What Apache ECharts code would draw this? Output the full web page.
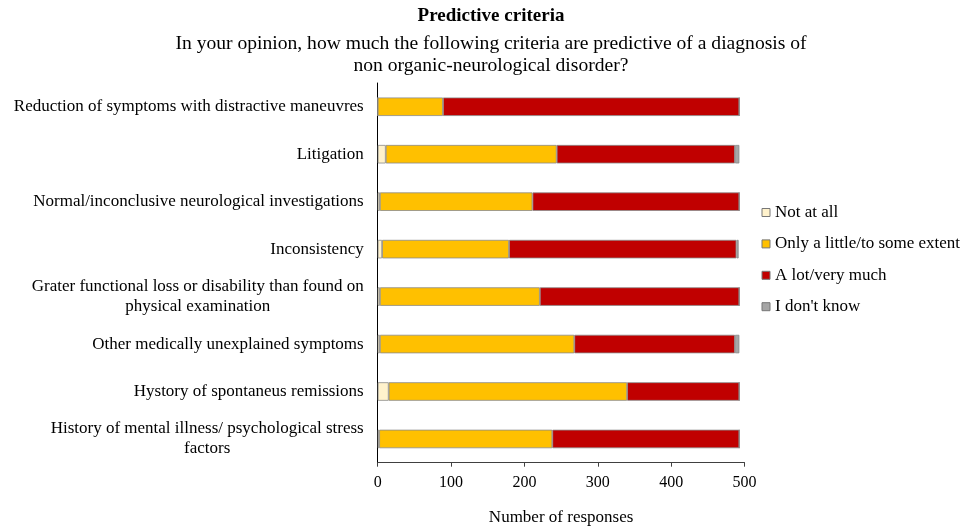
<!DOCTYPE html>
<html>
<head>
<meta charset="utf-8">
<script src="https://cdn.jsdelivr.net/npm/echarts@6/dist/echarts.min.js"></script>
<style>html,body{margin:0;padding:0;background:#fff}#c{width:971px;height:527px}</style>
</head>
<body>
<div id="c"></div>
<script>
var categories = [
  "Reduction of symptoms with distractive maneuvres",
  "Litigation",
  "Normal/inconclusive neurological investigations",
  "Inconsistency",
  "Grater functional loss or disability than found on\nphysical examination",
  "Other medically unexplained symptoms",
  "Hystory of spontaneus remissions",
  "History of mental illness/ psychological stress\nfactors"
];
var seriesNames = ["Not at all", "Only a little/to some extent", "A lot/very much", "I don't know"];
var notAtAll   = [0, 11, 3, 6, 3, 3, 15, 2];
var aLittle    = [89, 233, 208, 173, 218, 265, 325, 236];
var aLot       = [404, 243, 282, 310, 272, 219, 153, 255];
var dontKnow   = [0, 6, 0, 3, 0, 6, 0, 0];
var xTicks = [0, 100, 200, 300, 400, 500];

var colors = ['#FFF2CC', '#FFC000', '#C00000', '#A6A6A6'];
var FONT = '"Liberation Serif", "Times New Roman", serif';
var dataSets = [notAtAll, aLittle, aLot, dontKnow];

var chart = echarts.init(document.getElementById('c'));
chart.setOption({
  animation: false,
  backgroundColor: '#fff',
  textStyle: { fontFamily: FONT },
  title: {
    text: 'Predictive criteria',
    subtext: 'In your opinion, how much the following criteria are predictive of a diagnosis of\nnon organic-neurological disorder?',
    left: 486, top: 1, textAlign: 'center',
    itemGap: 7,
    textStyle: { fontFamily: FONT, fontSize: 19, fontWeight: 'bold', color: '#000', lineHeight: 20 },
    subtextStyle: { fontFamily: FONT, fontSize: 19.6, color: '#000', lineHeight: 22 }
  },
  legend: {
    orient: 'vertical', left: 756.5, top: 199,
    itemWidth: 8, itemHeight: 8, itemGap: 14.4,
    icon: 'rect',
    data: seriesNames,
    textStyle: { fontFamily: FONT, fontSize: 17, color: '#000' },
    itemStyle: { borderColor: '#777', borderWidth: 1 }
  },
  grid: { left: 377.7, right: 226.5, top: 83, bottom: 64.3, containLabel: false, outerBoundsMode: 'none' },
  xAxis: {
    type: 'value', min: xTicks[0], max: xTicks[xTicks.length - 1], interval: 100,
    name: 'Number of responses', nameLocation: 'middle', nameGap: 46.5,
    nameTextStyle: { fontFamily: FONT, fontSize: 17, color: '#000' },
    axisLine: { show: true, lineStyle: { color: '#404040', width: 1 } },
    axisTick: { show: true, length: 4, lineStyle: { color: '#404040' } },
    splitLine: { show: false },
    axisLabel: { fontFamily: FONT, fontSize: 16, color: '#000', margin: 12 }
  },
  yAxis: {
    type: 'category', data: categories, inverse: true,
    axisLine: { show: true, lineStyle: { color: '#000', width: 1 } },
    axisTick: { show: false },
    axisLabel: {
      fontFamily: FONT, fontSize: 17, color: '#000', margin: 14, lineHeight: 20,
      formatter: function (v) { return '{c|' + v.split('\n').join('}\n{c|') + '}'; },
      rich: { c: { fontFamily: FONT, fontSize: 17, color: '#000', align: 'center', lineHeight: 20 } }
    }
  },
  series: seriesNames.map(function (n, i) {
    return {
      name: n, type: 'bar', stack: 'total', barWidth: 18.5,
      data: dataSets[i],
      itemStyle: { color: colors[i], borderColor: '#8a8a8a', borderWidth: 0.8 },
      emphasis: { disabled: true }
    };
  })
});
</script>
</body>
</html>
